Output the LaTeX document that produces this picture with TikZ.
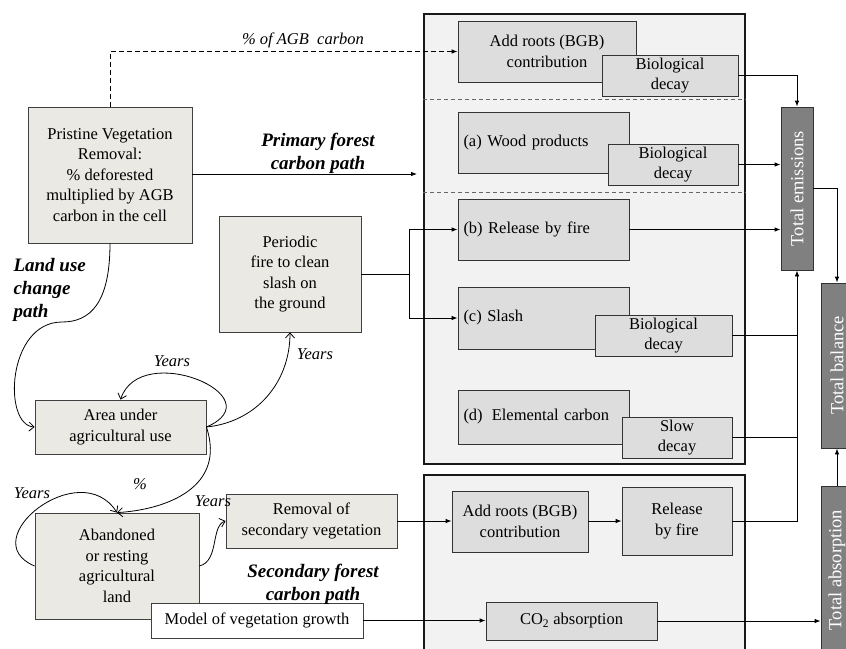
\documentclass[tikz,border=0pt]{standalone}
\usepackage{fontspec}
\setmainfont{Liberation Serif}
\usetikzlibrary{arrows.meta}

\definecolor{landfill}{RGB}{234,233,228}
\definecolor{poolfill}{RGB}{221,221,221}
\definecolor{panelfill}{RGB}{241,242,241}
\definecolor{totalfill}{RGB}{128,128,128}

\tikzset{
  landbox/.style={draw=black!75, line width=0.8pt, fill=landfill, align=center, inner sep=0pt},
  poolbox/.style={draw=black!80, line width=0.8pt, fill=poolfill, align=center, inner sep=0pt},
  listbox/.style={poolbox, align=left, text width=160pt, inner xsep=5.5pt},
  panel/.style={draw=black!90, line width=1.8pt, fill=panelfill, inner sep=0pt},
  totalbox/.style={draw=black!80, line width=0.8pt, fill=totalfill, text=white, rotate=90,
    inner sep=0pt, font=\fontsize{18.5}{22}\selectfont},
  pathlabel/.style={align=center, font=\fontsize{19}{23}\selectfont\bfseries\itshape},
  yearlabel/.style={font=\fontsize{16.5}{20}\selectfont\itshape},
  flow/.style={line width=0.8pt, -{Latex[length=6pt,width=4.5pt]}},
  landarrow/.style={line width=0.8pt, -{Straight Barb[length=5pt,width=9pt]}}
}

\begin{document}
\begin{tikzpicture}[x=1pt, y=-1pt, font=\fontsize{16.5}{20.5}\selectfont]
	\useasboundingbox (0,0) rectangle (846,648);

	% panels
	\node[panel, minimum width=321, minimum height=450] (primary) at (584.5,239) {};
	\node[panel, minimum width=321, minimum height=215] (secondary) at (584.5,582.5) {};
	\draw[dash pattern=on 4pt off 3pt, line width=0.8pt, black!60] (primary.west |- 0,99) -- (primary.east |- 0,99);
	\draw[dash pattern=on 4pt off 3pt, line width=0.8pt, black!60] (primary.west |- 0,192) -- (primary.east |- 0,192);

	% land side
	\node[landbox, minimum width=164, minimum height=136] (pvr) at (110,175)
		{Pristine Vegetation\\ Removal:\\ \% deforested\\ multiplied by AGB\\ carbon in the cell};
	\node[landbox, minimum width=142, minimum height=116] (fire) at (290,274)
		{Periodic\\ fire to clean\\ slash on\\ the ground};
	\node[landbox, minimum width=171, minimum height=54] (agri) at (120.5,427)
		{Area under\\ agricultural use};
	\node[landbox, minimum width=164, minimum height=106] (aband) at (117,566)
		{Abandoned\\ or resting\\ agricultural\\ land};
	\node[landbox, minimum width=171, minimum height=54] (remsec) at (311.5,521)
		{Removal of\\ secondary vegetation};
	\node[landbox, fill=white, minimum width=212, minimum height=35] (growth) at (257,620.5)
		{Model of vegetation growth};

	% primary forest pools
	\node[poolbox, minimum width=178, minimum height=61] (roots) at (547,51.5)
		{Add roots (BGB)\\ contribution};
	\node[poolbox, minimum width=136, minimum height=41] (rootsdecay) at (670,75.5)
		{Biological\\ decay};
	\node[listbox, minimum height=61] (wood) at (543.5,142.5) {(a) Wood products};
	\node[poolbox, minimum width=130, minimum height=41] (wooddecay) at (673,164.5)
		{Biological\\ decay};
	\node[listbox, minimum height=61] (relfire) at (543.5,229.5) {(b) Release by fire};
	\node[listbox, minimum height=62] (slash) at (543.5,318) {(c) Slash};
	\node[poolbox, minimum width=137, minimum height=41] (slashdecay) at (663.5,335.5)
		{Biological\\ decay};
	\node[listbox, minimum height=54] (elem) at (543.5,417) {(d)\hspace{0.55em}Elemental carbon};
	\node[poolbox, minimum width=110, minimum height=41] (slowdecay) at (677,437.5)
		{Slow\\ decay};

	% secondary forest pools
	\node[poolbox, minimum width=136, minimum height=61] (roots2) at (520,521.5)
		{Add roots (BGB)\\ contribution};
	\node[poolbox, minimum width=110, minimum height=68] (fire2) at (677,521)
		{Release\\ by fire};
	\node[poolbox, minimum width=171, minimum height=38] (co2) at (571.5,621)
		{CO\textsubscript{2} absorption};

	% totals (rotated: east is the top side, north the left side)
	\node[totalbox, minimum width=163, minimum height=32] (temis) at (797,188.5) {Total emissions};
	\node[totalbox, minimum width=165, minimum height=32] (tbal) at (837,365.5) {Total balance};
	\node[totalbox, minimum width=168, minimum height=32] (tabs) at (837,570) {Total absorption};

	% labels
	\node[yearlabel] (agbnote) at (303,40) {\% of AGB\ \ carbon};
	\node[pathlabel] (primlabel) at (318,153) {Primary forest\\ carbon path};
	\node[pathlabel, align=left, anchor=west] (luclabel) at (10,290) {Land use\\ change\\ path};
	\node[pathlabel] (seclabel) at (313,584) {Secondary forest\\ carbon path};
	\node[yearlabel] (yagri) at (172,361) {Years};
	\node[yearlabel] (yfire) at (315,354) {Years};
	\node[yearlabel] (pctaband) at (140,484) {\%};
	\node[yearlabel] (yaband) at (32,493) {Years};
	\node[yearlabel] (yremsec) at (213,501) {Years};

	\coordinate (primin) at (417,174);
	\coordinate (split) at (409,274);
	\coordinate (lucbend) at (62,322);

	% primary path
	\draw[flow, dash pattern=on 5pt off 3pt] (pvr.north) |- (roots.west);
	\draw[flow] (pvr.east |- primin) -- (primin);
	\draw[line width=0.8pt] (fire.east) -- (split);
	\draw[flow] (split) |- (relfire.west);
	\draw[flow] (split) |- (slash.west);

	% land use change path
	\draw[line width=0.8pt] (pvr.south) .. controls +(0,60) and +(28,0) .. (lucbend);
	\draw[landarrow] (lucbend) .. controls +(-55,0) and +(-32,-2) .. (agri.west);
	\draw[landarrow] (agri.east) .. controls +(70,-30) and +(20,-60) .. (agri.north);
	\draw[landarrow] (agri.east) .. controls +(50,-5) and +(0,50) .. (fire.south);
	\draw[landarrow] (agri.east) .. controls +(20,60) and +(50,-3) .. (aband.north);
	\draw[landarrow] (aband.west) .. controls +(-62,-26) and +(-37,-58) .. (aband.north);
	\draw[landarrow] (aband.east) .. controls +(20,-5) and +(-15,5) .. (remsec.west);

	% secondary path
	\draw[flow] (remsec.east) -- (roots2.west |- remsec.east);
	\draw[flow] (roots2.east |- fire2.west) -- (fire2.west);
	\draw[flow] (growth.east) -- (co2.west |- growth.east);

	% to the totals
	\draw[flow] (rootsdecay.east) -| (temis.east);
	\draw[flow] (wooddecay.east) -- (temis.north |- wooddecay.east);
	\draw[flow] (relfire.east) -- (temis.north |- relfire.east);
	\draw[line width=0.8pt] (slashdecay.east) -- (temis.west |- slashdecay.east);
	\draw[line width=0.8pt] (slowdecay.east) -- (temis.west |- slowdecay.east);
	\draw[flow] (fire2.east) -| (temis.west);
	\draw[flow] (temis.south) -| (tbal.east);
	\draw[flow] (tabs.east) -- (tbal.west);
	\draw[flow] (co2.east) -- (tabs.north |- co2.east);
\end{tikzpicture}
\end{document}
